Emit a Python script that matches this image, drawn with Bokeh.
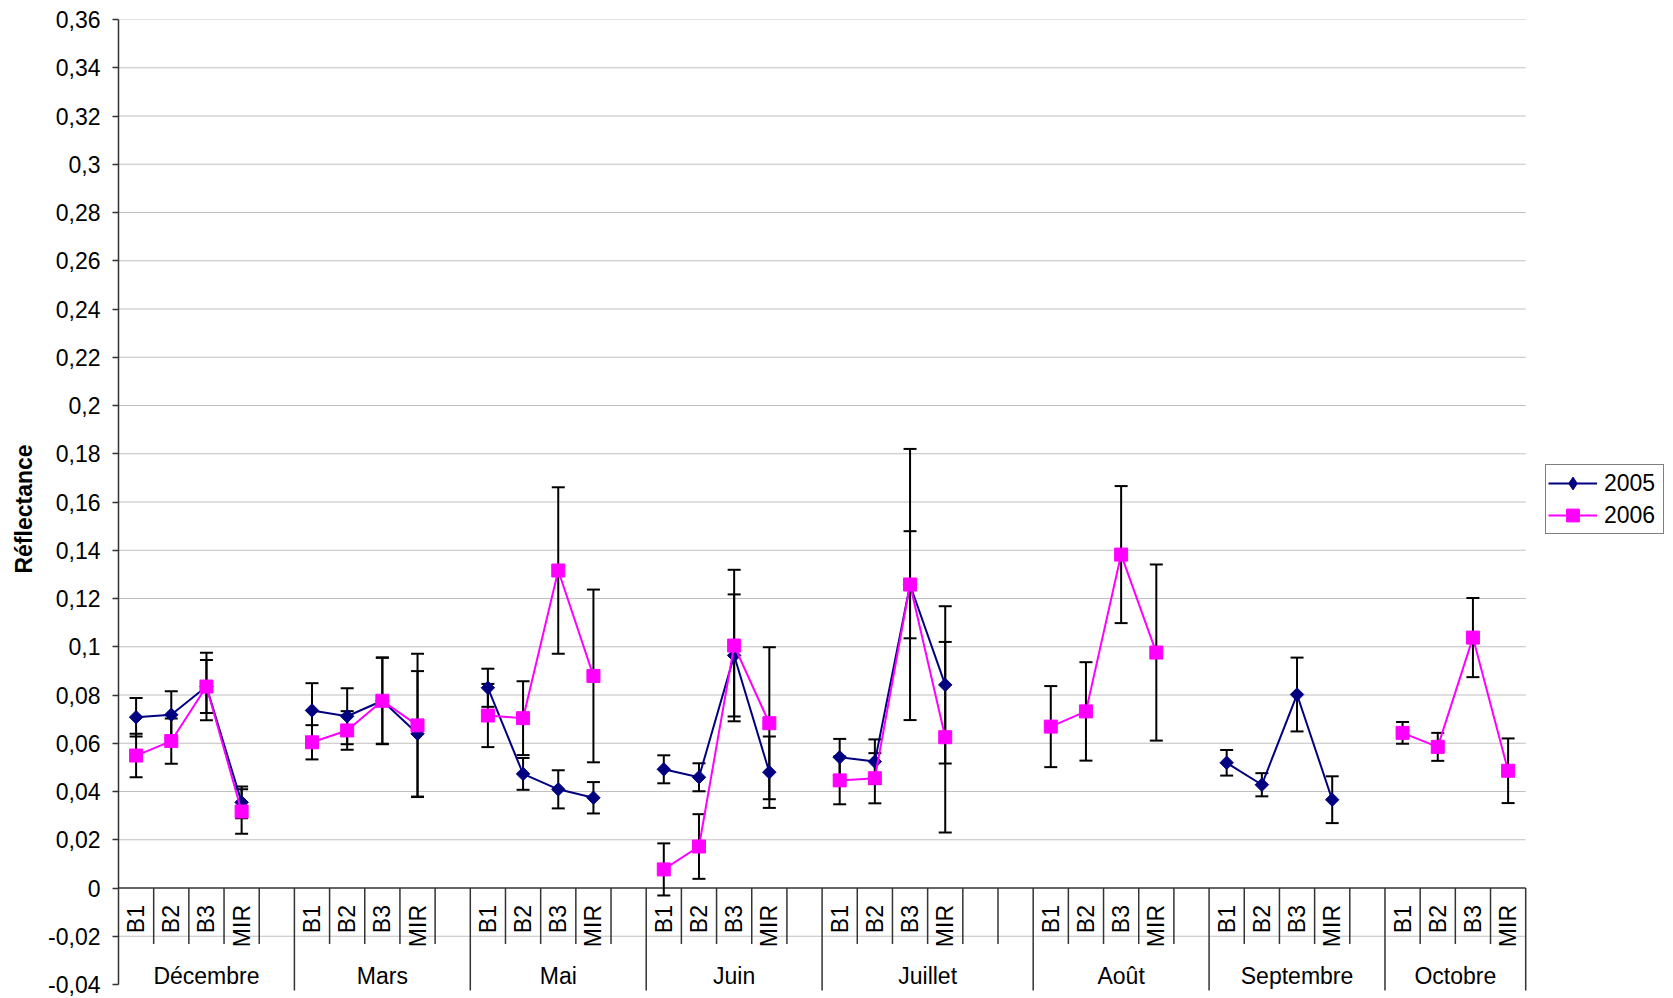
import numpy as np
from bokeh.plotting import figure
from bokeh.models import Range1d, FixedTicker, CustomJSTickFormatter, Legend, LegendItem
from bokeh.core.properties import value
from bokeh.embed import file_html
from bokeh.resources import INLINE

# ---------------- data ----------------
months = ["Décembre", "Mars", "Mai", "Juin", "Juillet", "Août", "Septembre", "Octobre"]
bands = ["B1", "B2", "B3", "MIR"]
blank_after = [1, 1, 1, 1, 2, 1, 1, 0]   # empty categories after each month
y_ticks = [-0.04, -0.02, 0.0, 0.02, 0.04, 0.06, 0.08, 0.10, 0.12, 0.14, 0.16,
           0.18, 0.20, 0.22, 0.24, 0.26, 0.28, 0.30, 0.32, 0.34, 0.36]
y_title = "Réflectance"

r2005 = [0.0708, 0.0718, 0.0835, 0.0355,   # Décembre
         0.0736, 0.0712, 0.0776, 0.0639,   # Mars
         0.0830, 0.0473, 0.0409, 0.0374,   # Mai
         0.0492, 0.0459, 0.0964, 0.0480,   # Juin
         0.0542, 0.0524, 0.1257, 0.0842,   # Juillet
         None, None, None, None,           # Août
         0.0519, 0.0428, 0.0802, 0.0366,   # Septembre
         None, None, None, None]           # Octobre
e2005 = [0.0080, 0.0098, 0.0110, 0.0066,
         0.0113, 0.0116, 0.0178, 0.0260,
         0.0079, 0.0066, 0.0079, 0.0065,
         0.0058, 0.0058, 0.0253, 0.0148,
         0.0076, 0.0092, 0.0222, 0.0326,
         None, None, None, None,
         0.0053, 0.0048, 0.0153, 0.0097,
         None, None, None, None]
r2006 = [0.0549, 0.0609, 0.0835, 0.0317,
         0.0604, 0.0653, 0.0776, 0.0674,
         0.0715, 0.0704, 0.1316, 0.0879,
         0.0077, 0.0172, 0.1005, 0.0683,
         0.0446, 0.0455, 0.1258, 0.0625,
         0.0669, 0.0732, 0.1382, 0.0976,
         None, None, None, None,
         0.0643, 0.0585, 0.1038, 0.0486]
e2006 = [0.0090, 0.0094, 0.0140, 0.0092,
         0.0071, 0.0080, 0.0180, 0.0297,
         0.0131, 0.0153, 0.0345, 0.0358,
         0.0108, 0.0134, 0.0314, 0.0315,
         0.0099, 0.0104, 0.0562, 0.0395,
         0.0168, 0.0204, 0.0284, 0.0365,
         None, None, None, None,
         0.0045, 0.0058, 0.0164, 0.0134]

# ---------------- layout / style ----------------
FONT = "Liberation Sans"
FS = "23px"
AXIS_C = "#333333"
GRID_C = "#c0c0c0"
C2005 = "#000080"
C2006 = "#ff00ff"

W, H = 1672, 998
LEFT, TOP = 118, 19
SLOT_PX = 35.18
UNIT_PX = 2412.5
frame_w = W - LEFT
frame_h = H - TOP
y_top = 0.36
y_bot = y_top - frame_h / UNIT_PX


def arr(v):
    return np.array([np.nan if a is None else a for a in v], dtype=float)


# category slot positions
xpos = []
spans = []
slot = 0
for nb in blank_after:
    start = slot
    for _ in bands:
        xpos.append(slot + 0.5)
        slot += 1
    slot += nb
    spans.append((start, slot))
n_slots = slot
xpos = np.array(xpos)

p = figure(width=W, height=H, output_backend="svg", toolbar_location=None,
           x_range=Range1d(0, frame_w / SLOT_PX), y_range=Range1d(y_bot, y_top),
           x_axis_type=None, min_border_left=LEFT, min_border_top=TOP,
           min_border_right=0, min_border_bottom=0)
p.outline_line_color = None
p.grid.visible = False
p.background_fill_color = "white"
p.border_fill_color = "white"

ax = p.yaxis[0]
ax.ticker = FixedTicker(ticks=y_ticks)
ax.formatter = CustomJSTickFormatter(code="""
    let s = tick.toFixed(2).replace(/0+$/, '').replace(/\\.$/, '');
    if (s == '-0') s = '0';
    return s.replace('.', ',');
""")
ax.bounds = (y_ticks[0], y_ticks[-1])
ax.major_tick_in = 0
ax.major_tick_out = 6
ax.minor_tick_line_color = None
ax.axis_line_color = AXIS_C
ax.axis_line_width = 1.5
ax.major_tick_line_color = AXIS_C
ax.major_tick_line_width = 1.5
ax.major_label_standoff = 12
ax.major_label_text_font = FONT
ax.major_label_text_font_size = FS
ax.major_label_text_color = "black"
ax.axis_label = y_title
ax.axis_label_text_font = FONT
ax.axis_label_text_font_size = FS
ax.axis_label_text_font_style = "bold"
ax.axis_label_text_color = "black"
ax.axis_label_standoff = 8

# horizontal gridlines
grid_vals = [t for t in y_ticks if t > 0.001] + [-0.02]
p.segment(x0=0, x1=n_slots, y0=grid_vals, y1=grid_vals, line_color=GRID_C, line_width=1.2)

# category axis line and separators
p.segment(x0=[0], x1=[n_slots], y0=[0], y1=[0], line_color=AXIS_C, line_width=1.5)
outer_b = [e for s, e in spans]
inner_b = [b for b in range(1, n_slots + 1) if b not in outer_b]
p.segment(x0=inner_b, x1=inner_b, y0=0, y1=-0.0232, line_color=AXIS_C, line_width=1.5)
p.segment(x0=outer_b, x1=outer_b, y0=0, y1=-0.0425, line_color=AXIS_C, line_width=1.5)

# category labels
p.text(x=xpos, y=np.zeros(len(xpos)), text=bands * len(months), angle=np.pi / 2,
       y_offset=17, text_align="right", text_baseline="middle",
       text_font=value(FONT), text_font_size=value(FS), text_color="black")
p.text(x=[(s + e) / 2 for s, e in spans], y=np.zeros(len(spans)), text=months,
       y_offset=88, text_align="center", text_baseline="middle",
       text_font=value(FONT), text_font_size=value(FS), text_color="black")

# error bars (stems + caps)
for vals, errs in [(r2005, e2005), (r2006, e2006)]:
    v = arr(vals)
    e = arr(errs)
    ok = ~np.isnan(v)
    p.segment(x0=xpos[ok], x1=xpos[ok], y0=(v - e)[ok], y1=(v + e)[ok],
              line_color="black", line_width=2)
    p.scatter(x=np.concatenate([xpos[ok], xpos[ok]]),
              y=np.concatenate([(v - e)[ok], (v + e)[ok]]),
              marker="dash", size=13, line_color="black", line_width=2)

# series
legend_items = []
for name, vals, col, marker, size, ang, leg_marker in [
        ("2005", r2005, C2005, "square", 9.5, np.pi / 4, "diamond"),
        ("2006", r2006, C2006, "square", 13, 0.0, "square")]:
    v = arr(vals)
    lx, ly = [], []
    for mi in range(len(months)):
        for bi in range(len(bands)):
            k = mi * len(bands) + bi
            lx.append(xpos[k])
            ly.append(v[k])
        lx.append(np.nan)
        ly.append(np.nan)
    lr = p.line(x=np.array(lx), y=np.array(ly), line_color=col, line_width=2)
    ok = ~np.isnan(v)
    p.scatter(x=xpos[ok], y=v[ok], marker=marker, size=size, angle=ang,
              fill_color=col, line_color=col, line_width=1)
    # legend swatch marker (single NaN point, never drawn in the plot)
    lm = p.scatter(x=[np.nan], y=[np.nan], marker=leg_marker, size=size,
                   fill_color=col, line_color=col, line_width=1)
    legend_items.append(LegendItem(label=name, renderers=[lr, lm]))

legend = Legend(items=legend_items, location=(1427, H - 534),
                label_text_font=FONT, label_text_font_size=FS,
                label_text_color="black", glyph_width=49, glyph_height=32,
                label_standoff=7, label_width=57, padding=2, spacing=0, margin=0,
                border_line_color="black", border_line_width=1,
                background_fill_color="white", background_fill_alpha=1)
p.add_layout(legend)

open("out.html", "w").write(file_html(p, INLINE))
